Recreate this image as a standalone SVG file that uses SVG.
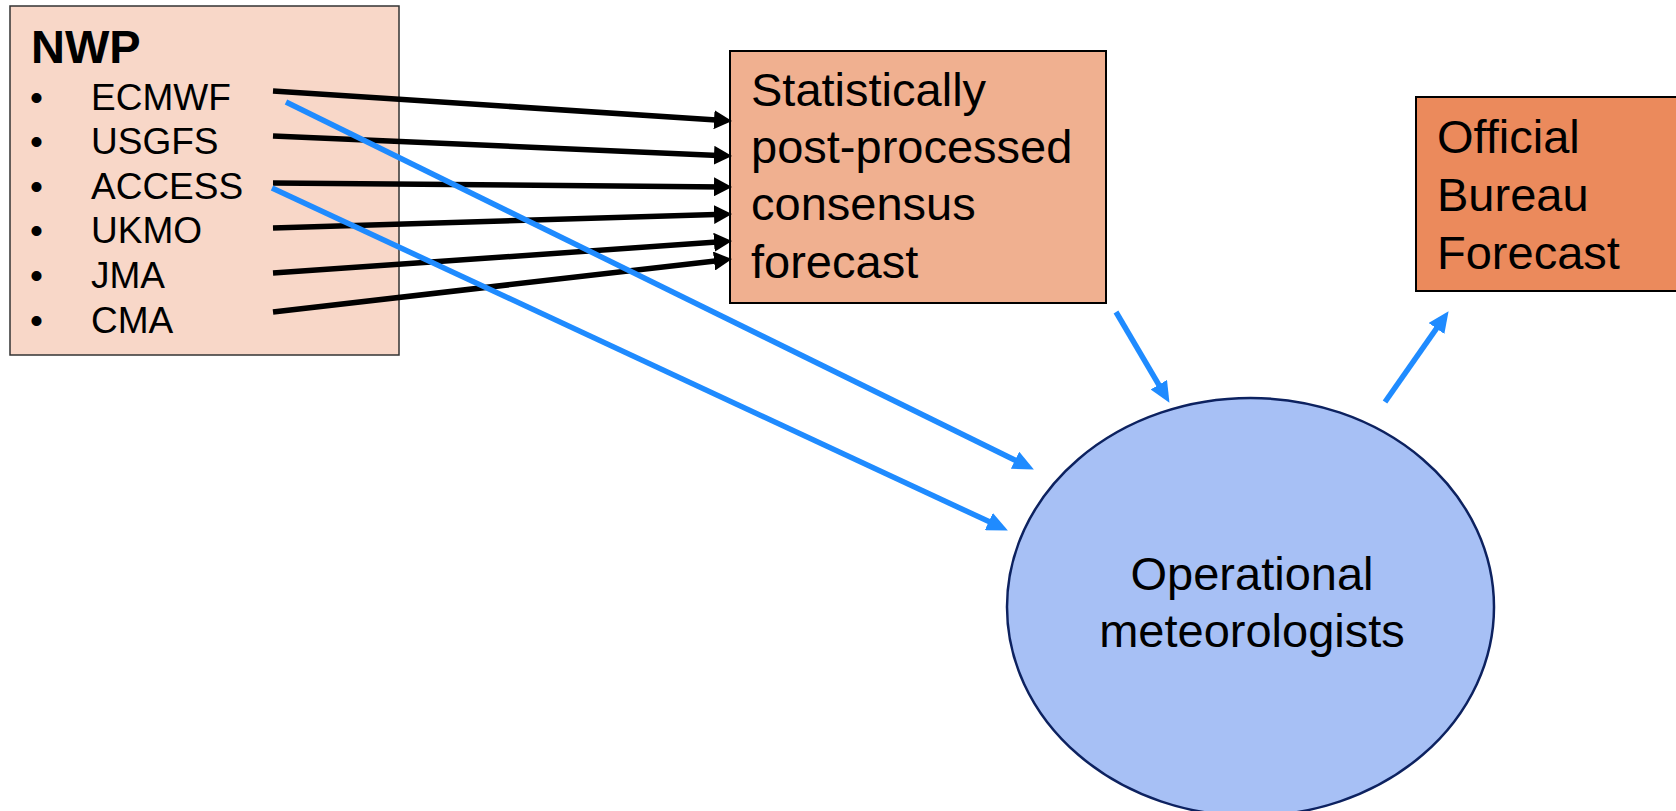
<svg xmlns="http://www.w3.org/2000/svg" width="1676" height="811" viewBox="0 0 1676 811">
  <style>
    text { font-family: "Liberation Sans", Arial, sans-serif; fill: #000; }
    .item { font-size: 37px; }
    .big { font-size: 47px; }
    .blk { stroke: #000; stroke-width: 5.5; fill: none; }
    .blu { stroke: #1F8BFF; stroke-width: 5.5; fill: none; }
  </style>
  <defs>
    <marker id="ahB" markerUnits="userSpaceOnUse" markerWidth="18" markerHeight="19" refX="10" refY="9.5" orient="auto">
      <path d="M0,0 L18,9.5 L0,19 Z" fill="#000"/>
    </marker>
    <marker id="ahU" markerUnits="userSpaceOnUse" markerWidth="21" markerHeight="19" refX="12" refY="9.5" orient="auto">
      <path d="M0,0 L21,9.5 L0,19 Z" fill="#1F8BFF"/>
    </marker>
  </defs>

  <g id="nwp">
    <rect x="10" y="6" width="389" height="349" fill="#F8D7C8" stroke="#333" stroke-width="1.5"/>
    <text x="31" y="63" font-size="47" font-weight="bold">NWP</text>
    <g class="item">
      <text x="30" y="110">•</text><text x="91" y="110">ECMWF</text>
      <text x="30" y="154">•</text><text x="91" y="154">USGFS</text>
      <text x="30" y="199">•</text><text x="91" y="199">ACCESS</text>
      <text x="30" y="243">•</text><text x="91" y="243">UKMO</text>
      <text x="30" y="288">•</text><text x="91" y="288">JMA</text>
      <text x="30" y="333">•</text><text x="91" y="333">CMA</text>
    </g>
  </g>

  <g id="consensus">
    <rect x="730" y="51" width="376" height="252" fill="#F0B090" stroke="#000" stroke-width="2"/>
    <text class="big" x="751" y="106">Statistically</text>
    <text class="big" x="751" y="163">post-processed</text>
    <text class="big" x="751" y="220">consensus</text>
    <text class="big" x="751" y="278">forecast</text>
  </g>

  <g id="official">
    <rect x="1416" y="97" width="270" height="194" fill="#EB8A5C" stroke="#000" stroke-width="2"/>
    <text class="big" x="1437" y="153">Official</text>
    <text class="big" x="1437" y="211">Bureau</text>
    <text class="big" x="1437" y="269">Forecast</text>
  </g>

  <g id="meteorologists">
    <ellipse cx="1250.5" cy="607" rx="243.5" ry="209" fill="#A7C0F5" stroke="#0D2260" stroke-width="2.5"/>
    <text class="big" x="1252" y="590" text-anchor="middle">Operational</text>
    <text class="big" x="1252" y="647" text-anchor="middle">meteorologists</text>
  </g>

  <g id="connectors">
    <path class="blk" d="M273,91 L724,120.5" marker-end="url(#ahB)"/>
    <path class="blk" d="M273,136 L724,155.7" marker-end="url(#ahB)"/>
    <path class="blk" d="M273,183 L724,186.9" marker-end="url(#ahB)"/>
    <path class="blk" d="M273,228 L724,214.2" marker-end="url(#ahB)"/>
    <path class="blk" d="M273,273 L724,241.6" marker-end="url(#ahB)"/>
    <path class="blk" d="M273,312 L724,259.9" marker-end="url(#ahB)"/>
    <path class="blu" d="M286,102 L1025.8,465.5" marker-end="url(#ahU)"/>
    <path class="blu" d="M272,188 L999.7,526.6" marker-end="url(#ahU)"/>
    <path class="blu" d="M1116,312 L1164.9,395.1" marker-end="url(#ahU)"/>
    <path class="blu" d="M1385,402 L1443.4,318.6" marker-end="url(#ahU)"/>
  </g>
</svg>
